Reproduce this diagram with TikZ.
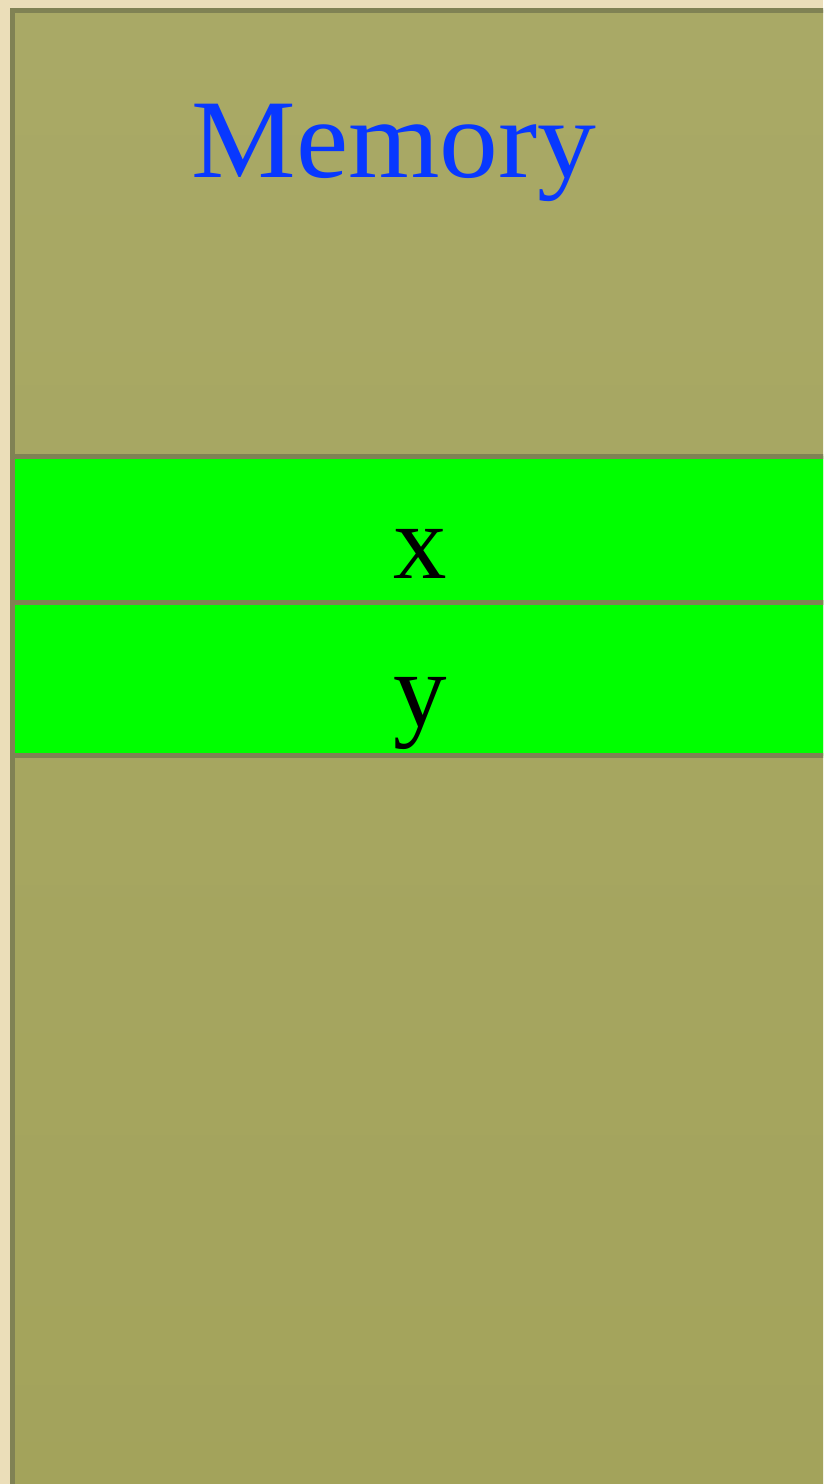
\documentclass[tikz,border=0pt]{standalone}
\usepackage{fontspec}
\setmainfont{Liberation Serif}
\newfontfamily\titlefont[FakeStretch=1.05]{Liberation Serif}
\usetikzlibrary{positioning}

\definecolor{paper}{RGB}{235,222,185}
\definecolor{rim}{RGB}{128,130,84}
\definecolor{olivetop}{RGB}{169,169,102}
\definecolor{olivebot}{RGB}{163,163,91}
\definecolor{cellgreen}{RGB}{0,255,0}
\definecolor{memblue}{RGB}{8,56,255}

\begin{document}
\begin{tikzpicture}[x=1pt,y=-1pt,
  cell/.style={draw=rim,line width=5pt,fill=cellgreen,outer sep=0pt,inner sep=0pt,
    minimum width=840pt,anchor=north west},
  lbl/.style={font=\fontsize{107}{110}\selectfont,anchor=base,inner sep=0pt}]
  \fill[paper] (0,0) rectangle (823,1484);
  \useasboundingbox (0,0) rectangle (823,1484);
  \clip (0,0) rectangle (823,1484);
  % memory block
  \draw[rim,line width=5pt,top color=olivetop,bottom color=olivebot] (12.5,10.5) rectangle (850,1510);
  \node[text=memblue,font=\titlefont\fontsize{112}{115}\selectfont,anchor=base,inner sep=0pt] (title) at (394,177) {Memory};
  % cells
  \node[cell,minimum height=146.5pt] (cellx) at (12.5,456) {};
  \node[cell,minimum height=153pt,below=0pt of cellx] (celly) {};
  \node[lbl] (x) at (420,578) {x};
  \node[lbl] (y) at (420,726) {y};
\end{tikzpicture}
\end{document}
